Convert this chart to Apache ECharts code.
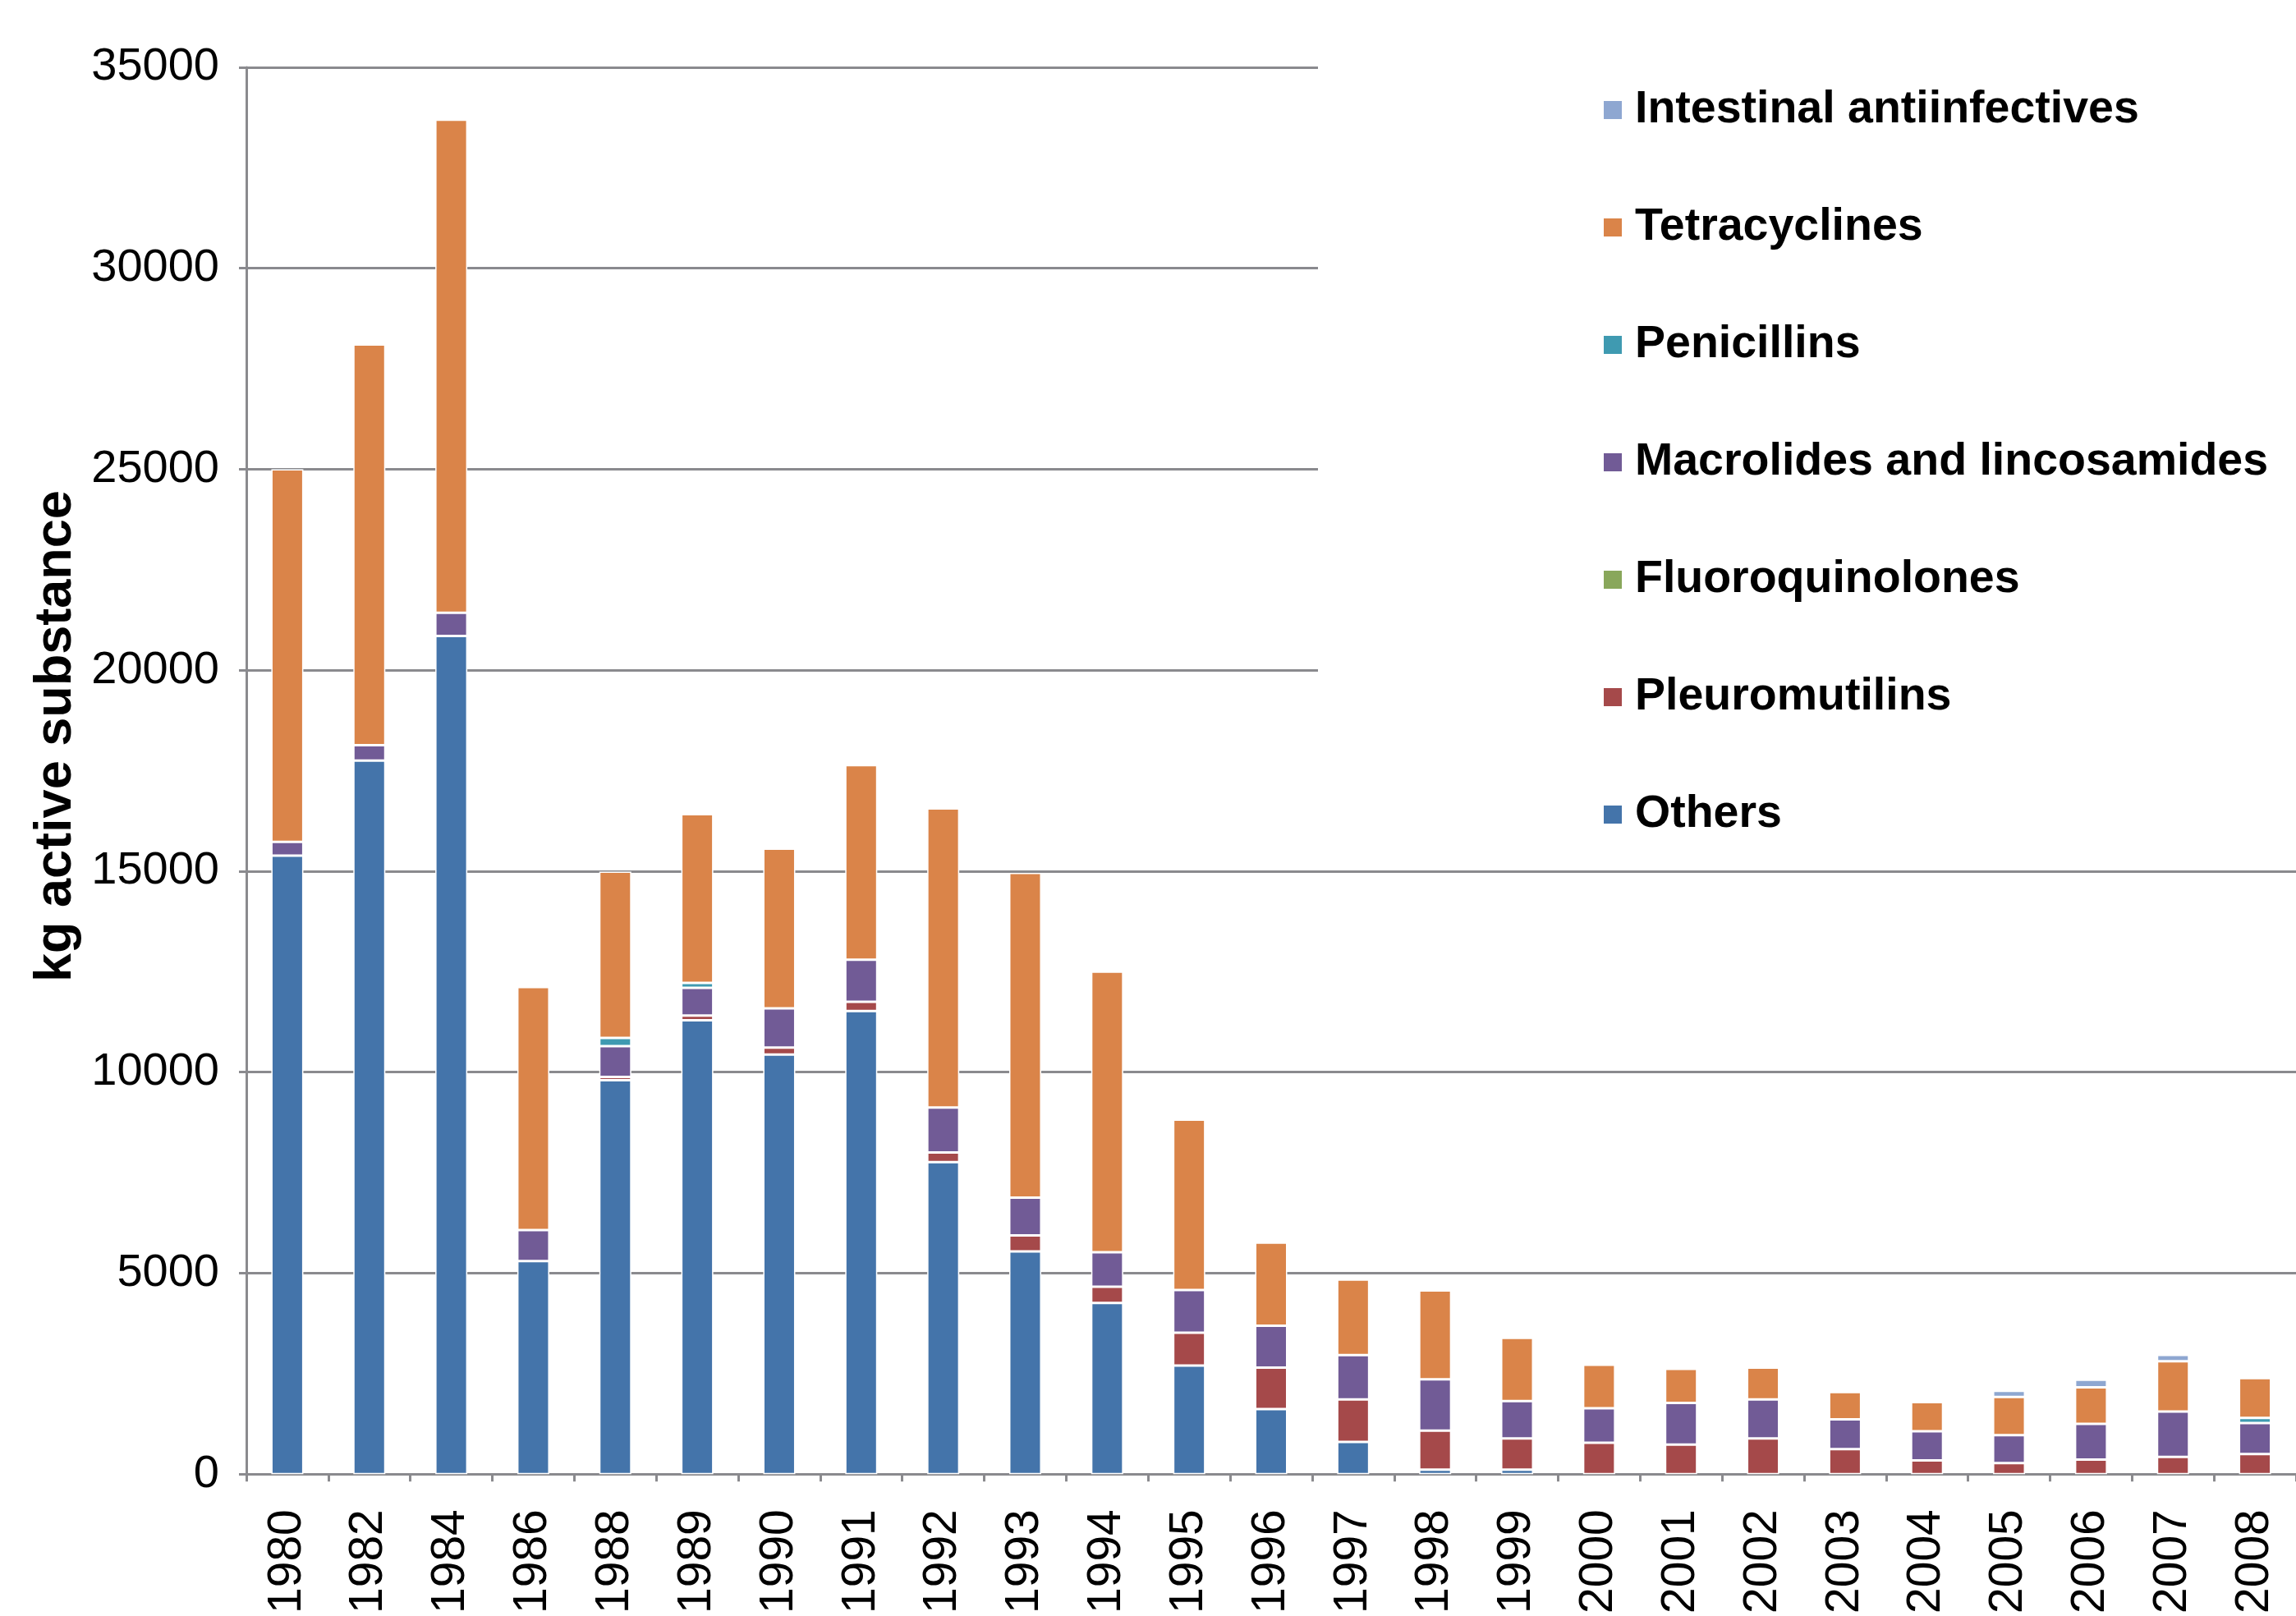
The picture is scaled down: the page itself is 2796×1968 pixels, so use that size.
<!DOCTYPE html>
<html>
<head>
<meta charset="utf-8">
<title>kg active substance</title>
<script src="https://cdn.jsdelivr.net/npm/echarts@6/dist/echarts.min.js"></script>
<style>
  html, body { margin: 0; padding: 0; background: #fff; }
  #main { width: 2796px; height: 1968px; }
</style>
</head>
<body>
<div id="main"></div>
<script>
// years on the x axis (1980-1988 every 2 years, then yearly)
var years = ['1980', '1982', '1984', '1986', '1988', '1989', '1990', '1991', '1992', '1993',
  '1994', '1995', '1996', '1997', '1998', '1999', '2000', '2001', '2002', '2003',
  '2004', '2005', '2006', '2007', '2008'];

// kg active substance, one array per class (stacked bottom -> top)
var others = [15390, 17750, 20850, 5300, 9800, 11290, 10440, 11520, 7760, 5540,
  4260, 2700, 1620, 800, 110, 110, 0, 0, 0, 0,
  0, 0, 0, 0, 0];
var pleuromutilins = [0, 0, 0, 0, 80, 120, 170, 230, 240, 400,
  400, 820, 1030, 1060, 970, 780, 780, 735, 890, 620,
  340, 275, 360, 430, 500];
var fluoroquinolones = [0, 0, 0, 0, 0, 0, 0, 0, 0, 0,
  0, 0, 0, 0, 0, 0, 0, 0, 0, 0,
  0, 0, 0, 0, 0];
var macrolides = [340, 385, 580, 770, 770, 690, 980, 1050, 1120, 940,
  860, 1060, 1040, 1100, 1280, 925, 860, 1035, 970, 745,
  725, 695, 890, 1125, 770];
var penicillins = [0, 0, 0, 0, 200, 120, 0, 0, 0, 0,
  0, 0, 0, 0, 0, 0, 0, 0, 0, 0,
  0, 0, 0, 0, 130];
var tetracyclines = [9270, 9970, 12270, 6050, 4140, 4200, 3970, 4840, 7440, 8080,
  6980, 4240, 2070, 1880, 2210, 1575, 1080, 850, 790, 675,
  725, 950, 910, 1255, 990];
var intestinal = [0, 0, 0, 0, 0, 0, 0, 0, 0, 0,
  0, 0, 0, 0, 0, 0, 0, 0, 0, 0,
  0, 155, 190, 155, 60];

var yTicks = [0, 5000, 10000, 15000, 20000, 25000, 30000, 35000];

var fontFam = '"Liberation Sans", Arial, Helvetica, sans-serif';
var gridGrey = '#8a8a8e';

// series definitions, in stacking order
var classes = [
  { name: 'Others', data: others, color: '#4474aa' },
  { name: 'Pleuromutilins', data: pleuromutilins, color: '#a5494a' },
  { name: 'Fluoroquinolones', data: fluoroquinolones, color: '#89a75b' },
  { name: 'Macrolides and lincosamides', data: macrolides, color: '#715b96' },
  { name: 'Penicillins', data: penicillins, color: '#3f9ab1' },
  { name: 'Tetracyclines', data: tetracyclines, color: '#da8449' },
  { name: 'Intestinal antiinfectives', data: intestinal, color: '#8ea7d1' }
];

var series = [];
for (var i = 0; i < classes.length; i++) {
  var c = classes[i];
  series.push({
    name: c.name,
    type: 'bar',
    stack: 'kg',
    barWidth: 39,
    // zero -> empty so no stray white border lines
    data: c.data.map(function (v) { return v === 0 ? '-' : v; }),
    itemStyle: {
      color: c.color,
      borderColor: '#ffffff',
      borderWidth: 1.5
    }
  });
}

// legend is listed top of stack first
var legendNames = [];
for (var j = classes.length - 1; j >= 0; j--) {
  legendNames.push(classes[j].name);
}

var chart = echarts.init(document.getElementById('main'));
var option = {
  backgroundColor: '#ffffff',
  animation: false,
  legend: {
    orient: 'vertical',
    left: 1605,
    top: 40,
    padding: [64, 100, 20, 346],
    backgroundColor: '#ffffff',
    itemWidth: 24,
    itemHeight: 24,
    itemGap: 83,
    icon: 'rect',
    textStyle: {
      color: '#000',
      fontFamily: fontFam,
      fontWeight: 'bold',
      fontSize: 55.5,
      lineHeight: 60,
      padding: [0, 0, 0, 10]
    },
    data: legendNames
  },
  grid: {
    left: 300,
    top: 82,
    bottom: 161,
    width: 2515,
    containLabel: false
  },
  xAxis: {
    type: 'category',
    data: years,
    boundaryGap: true,
    axisLine: {
      lineStyle: { color: gridGrey, width: 3 }
    },
    axisTick: {
      show: true,
      length: 9,
      interval: 0,
      lineStyle: { color: gridGrey, width: 3 }
    },
    axisLabel: {
      interval: 0,
      rotate: 90,
      margin: 43,
      color: '#000',
      fontFamily: fontFam,
      fontSize: 57
    }
  },
  yAxis: {
    type: 'value',
    min: yTicks[0],
    max: yTicks[yTicks.length - 1],
    interval: 5000,
    name: 'kg active substance',
    nameLocation: 'middle',
    nameRotate: 90,
    nameGap: 160,
    nameTextStyle: {
      color: '#000',
      fontFamily: fontFam,
      fontWeight: 'bold',
      fontSize: 63,
      padding: [0, 0, 0, 84]
    },
    axisLine: {
      show: true,
      lineStyle: { color: gridGrey, width: 3 }
    },
    axisTick: {
      show: true,
      length: 9,
      lineStyle: { color: gridGrey, width: 3 }
    },
    splitLine: {
      lineStyle: { color: gridGrey, width: 3 }
    },
    axisLabel: {
      margin: 33,
      color: '#000',
      fontFamily: fontFam,
      fontSize: 56,
      // plain numbers, no thousands separator
      formatter: function (v) { return String(v); }
    }
  },
  series: series
};
chart.setOption(option);
</script>
</body>
</html>
